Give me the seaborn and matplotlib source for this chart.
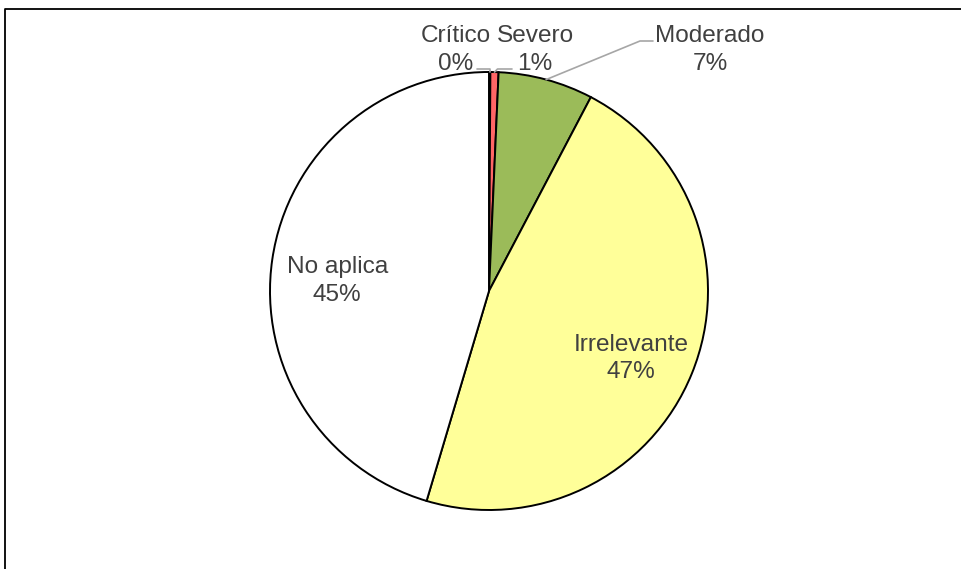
import numpy as np
import matplotlib
matplotlib.use("Agg")
import matplotlib.pyplot as plt
import seaborn as sns

categories = ["Crítico", "Severo", "Moderado", "Irrelevante", "No aplica"]
values = [0.1, 0.6, 7.0, 46.9, 45.4]
pct_labels = ["0%", "1%", "7%", "47%", "45%"]
colors = ["#FF6666", "#FF6666", "#9BBB59", "#FFFF99", "#FFFFFF"]

sns.set_theme(style="white")
plt.rcParams["font.family"] = ["Liberation Sans", "DejaVu Sans"]

W, H = 961, 569
fig = plt.figure(figsize=(W / 100, H / 100), dpi=100)
ax = fig.add_axes([0, 0, 1, 1])

cx, cy, r = 489, H - 291, 219
wedges, _ = ax.pie(values, colors=colors, startangle=90, counterclock=False,
                   center=(cx, cy), radius=r, frame=True,
                   wedgeprops=dict(edgecolor="black", linewidth=1.4))
ax.set_xlim(0, W)
ax.set_ylim(0, H)
ax.set_aspect("equal")
ax.axis("off")

tc = "#404040"
fs = 17.6
lc = "#A6A6A6"
ls = 1.32

# inside labels for the large slices
offsets = {3: -10, 4: -12}
for i in (3, 4):
    w = wedges[i]
    mid = np.deg2rad((w.theta1 + w.theta2) / 2)
    x = cx + 0.7 * r * np.cos(mid)
    y = cy + 0.7 * r * np.sin(mid) + offsets[i]
    ax.text(x, y, f"{categories[i]}\n{pct_labels[i]}", ha="center", va="center",
            color=tc, fontsize=fs, linespacing=ls)

def edge_point(i, frac=0.5):
    w = wedges[i]
    ang = np.deg2rad(w.theta1 + (w.theta2 - w.theta1) * frac)
    return cx + r * np.cos(ang), cy + r * np.sin(ang)

ty = H - 50
# Crítico
px, py = edge_point(0)
ax.plot([px, px, 477], [py, H - 69, H - 69], color=lc, lw=1.2)
ax.text(456, ty, f"{categories[0]}\n{pct_labels[0]}", ha="center", va="center",
        color=tc, fontsize=fs, linespacing=ls)
# Severo
px, py = edge_point(1)
ax.plot([px, px + 3, 512], [py, H - 69, H - 69], color=lc, lw=1.2)
ax.text(535, ty, f"{categories[1]}\n{pct_labels[1]}", ha="center", va="center",
        color=tc, fontsize=fs, linespacing=ls)
# Moderado
px, py = edge_point(2)
ax.plot([px, 640, 653], [py, H - 41, H - 41], color=lc, lw=1.2)
ax.text(710, ty, f"{categories[2]}\n{pct_labels[2]}", ha="center", va="center",
        color=tc, fontsize=fs, linespacing=ls)

# chart area border (partially off-canvas)
ax.plot([5, 5, W + 10], [-10, H - 9, H - 9], color="black", lw=1.3, clip_on=False)

fig.savefig("out.png", dpi=100)
